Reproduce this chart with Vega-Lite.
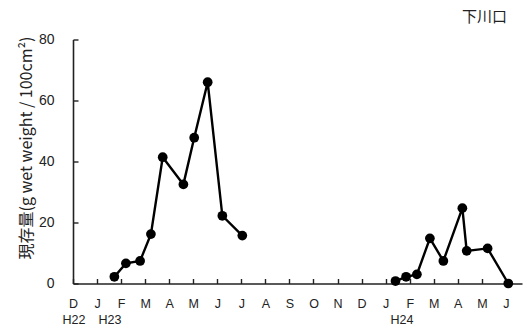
{
  "$schema": "https://vega.github.io/schema/vega-lite/v6.json",
  "autosize": "none",
  "width": 449,
  "height": 244,
  "padding": {"left": 73, "top": 39.5, "right": 3, "bottom": 43.5},
  "background": "white",
  "title": {
    "text": "下川口",
    "anchor": "end",
    "dx": -15,
    "offset": 8,
    "font": "Noto Sans CJK JP",
    "fontSize": 15,
    "fontWeight": "normal",
    "color": "#222"
  },
  "config": {
    "view": {"stroke": null},
    "axis": {
      "grid": false,
      "domainColor": "#222",
      "domainWidth": 1.6,
      "tickColor": "#222",
      "tickWidth": 1.4,
      "labelFont": "Liberation Sans",
      "labelColor": "#222",
      "titleFont": "Noto Sans CJK JP",
      "titleColor": "#222"
    }
  },
  "datasets": {
    "biomass": [
      {"m": 1.72, "v": 2.2, "s": "H23"},
      {"m": 2.2, "v": 6.6, "s": "H23"},
      {"m": 2.79, "v": 7.4, "s": "H23"},
      {"m": 3.24, "v": 16.2, "s": "H23"},
      {"m": 3.73, "v": 41.4, "s": "H23"},
      {"m": 4.59, "v": 32.5, "s": "H23"},
      {"m": 5.04, "v": 47.8, "s": "H23"},
      {"m": 5.6, "v": 66.0, "s": "H23"},
      {"m": 6.21, "v": 22.2, "s": "H23"},
      {"m": 7.04, "v": 15.7, "s": "H23"},
      {"m": 13.41, "v": 0.8, "s": "H24"},
      {"m": 13.85, "v": 2.2, "s": "H24"},
      {"m": 14.3, "v": 3.0, "s": "H24"},
      {"m": 14.84, "v": 14.8, "s": "H24"},
      {"m": 15.4, "v": 7.4, "s": "H24"},
      {"m": 16.19, "v": 24.7, "s": "H24"},
      {"m": 16.37, "v": 10.7, "s": "H24"},
      {"m": 17.24, "v": 11.5, "s": "H24"},
      {"m": 18.1, "v": 0.0, "s": "H24"}
    ],
    "years": [
      {"m": 0.04, "label": "H22"},
      {"m": 1.54, "label": "H23"},
      {"m": 13.68, "label": "H24"}
    ]
  },
  "encoding": {
    "x": {
      "field": "m",
      "type": "quantitative",
      "scale": {"domain": [0, 18.67], "nice": false, "zero": false},
      "axis": {
        "title": null,
        "values": [0, 1, 2, 3, 4, 5, 6, 7, 8, 9, 10, 11, 12, 13, 14, 15, 16, 17, 18],
        "labelExpr": "['D','J','F','M','A','M','J','J','A','S','O','N','D','J','F','M','A','M','J'][round(datum.value)]",
        "ticks": true,
        "tickSize": -5,
        "labelPadding": 19,
        "labelFontSize": 12.5,
        "labelFlush": false,
        "labelOverlap": false,
        "labelBound": false
      }
    }
  },
  "layer": [
    {
      "data": {"name": "biomass"},
      "mark": {"type": "line", "color": "black", "strokeWidth": 2.4, "point": {"filled": true, "color": "black", "size": 95, "opacity": 1}},
      "encoding": {
        "y": {
          "field": "v",
          "type": "quantitative",
          "scale": {"domain": [0, 80], "nice": false},
          "axis": {
            "title": "現存量(g wet weight / 100cm²)",
            "values": [0, 20, 40, 60, 80],
            "ticks": true,
            "tickSize": -5,
            "labelPadding": 24,
            "labelFontSize": 14,
            "titleFontSize": 16,
            "titleFontWeight": "normal",
            "titlePadding": 4,
            "titleY": 108
          }
        },
        "detail": {"field": "s"}
      }
    },
    {
      "data": {"name": "years"},
      "mark": {"type": "text", "font": "Liberation Sans", "fontSize": 12.5, "color": "#222", "dy": 36, "baseline": "middle"},
      "encoding": {
        "y": {"datum": 0},
        "text": {"field": "label"}
      }
    }
  ]
}
